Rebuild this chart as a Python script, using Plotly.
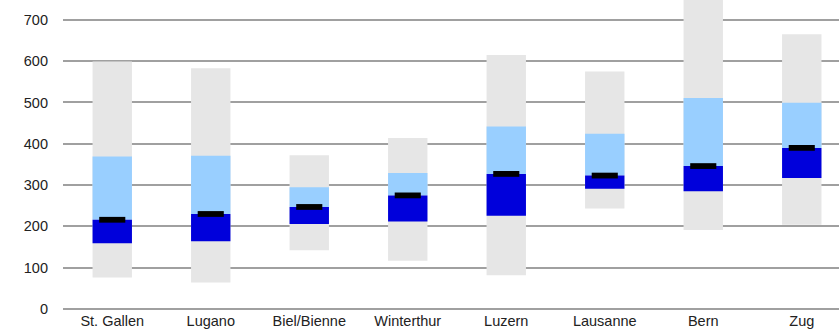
import plotly.graph_objects as go

cities = ["St. Gallen", "Lugano", "Biel/Bienne", "Winterthur", "Luzern", "Lausanne", "Bern", "Zug"]
low = [76, 64, 142, 117, 82, 243, 191, 204]
q1 = [159, 164, 206, 212, 226, 291, 285, 317]
median = [216, 230, 247, 275, 327, 323, 346, 390]
q3 = [369, 371, 295, 329, 442, 424, 511, 499]
high = [599, 583, 372, 414, 615, 575, 770, 665]
y_ticks = [0, 100, 200, 300, 400, 500, 600, 700]

marker_h = 14

fig = go.Figure()
fig.add_bar(x=cities, base=low, y=[h - l for h, l in zip(high, low)], width=0.4,
            marker=dict(color="#E6E6E6", line=dict(width=0)))
fig.add_bar(x=cities, base=median, y=[a - b for a, b in zip(q3, median)], width=0.4,
            marker=dict(color="#99CFFF", line=dict(width=0)))
fig.add_bar(x=cities, base=q1, y=[a - b for a, b in zip(median, q1)], width=0.4,
            marker=dict(color="#0000DB", line=dict(width=0)))
fig.add_bar(x=cities, base=[m - marker_h / 2 for m in median], y=[marker_h] * len(cities), width=0.265,
            marker=dict(color="#000000", line=dict(width=0)))

fig.update_layout(
    barmode="overlay",
    showlegend=False,
    width=839, height=332,
    margin=dict(l=63, r=0, t=0, b=23),
    plot_bgcolor="white", paper_bgcolor="white",
    font=dict(family="Liberation Sans, Arial, sans-serif", size=14.5, color="#222222"),
    xaxis=dict(range=[-0.5, 7.378], showgrid=False, showline=False, ticks="",
               ticklabelstandoff=1, fixedrange=True, automargin=False),
    yaxis=dict(range=[0, 748], tickvals=y_ticks, showgrid=True, gridcolor="#A0A0A0", gridwidth=1.5,
               zeroline=True, zerolinecolor="#A0A0A0", zerolinewidth=1.5, showline=False,
               ticks="", ticklabelstandoff=14, layer="below traces", automargin=False),
)

fig.write_html("out.html")
